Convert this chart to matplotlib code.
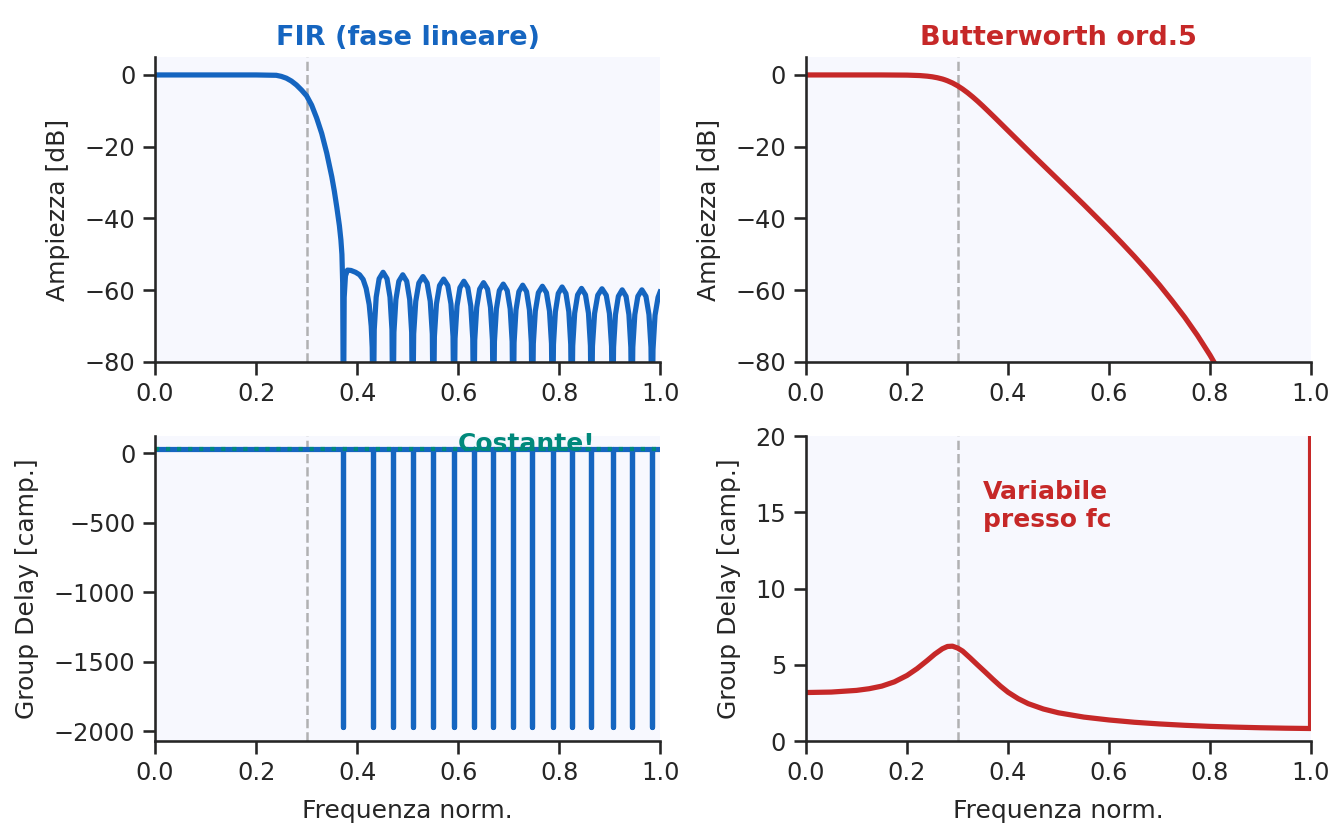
import numpy as np
import matplotlib.pyplot as plt

# colours
blue = '#1565c0'
red = '#c62828'
teal = '#00897b'
bg = '#f7f8fe'

fc = 0.3  # cutoff (normalized)

# FIR magnitude response [dB] (nulls go below -80 and get clipped)
fir_freq = [0.0, 0.1, 0.2, 0.24, 0.25, 0.26, 0.27, 0.28, 0.29, 0.30, 0.31, 0.32, 0.33,
            0.34, 0.35, 0.355, 0.36, 0.365, 0.368, 0.370, 0.3715, 0.373,
            0.3745, 0.377, 0.381, 0.388, 0.397, 0.405, 0.412, 0.418, 0.424, 0.428, 0.430, 0.432,
            0.4340, 0.4379, 0.4437, 0.4515, 0.4593, 0.4652, 0.4691, 0.471,
            0.4730, 0.4769, 0.4827, 0.4905, 0.4983, 0.5042, 0.5081, 0.510,
            0.5121, 0.5162, 0.5223, 0.5305, 0.5387, 0.5449, 0.5490, 0.551,
            0.5531, 0.5572, 0.5633, 0.5715, 0.5797, 0.5859, 0.5900, 0.592,
            0.5940, 0.5979, 0.6037, 0.6115, 0.6193, 0.6252, 0.6291, 0.631,
            0.6330, 0.6369, 0.6427, 0.6505, 0.6583, 0.6642, 0.6681, 0.670,
            0.6720, 0.6759, 0.6817, 0.6895, 0.6973, 0.7032, 0.7071, 0.709,
            0.7109, 0.7147, 0.7204, 0.7280, 0.7356, 0.7413, 0.7451, 0.747,
            0.7490, 0.7530, 0.7590, 0.7670, 0.7750, 0.7810, 0.7850, 0.787,
            0.7889, 0.7927, 0.7984, 0.8060, 0.8136, 0.8193, 0.8231, 0.825,
            0.8270, 0.8309, 0.8367, 0.8445, 0.8523, 0.8582, 0.8621, 0.864,
            0.8661, 0.8703, 0.8766, 0.8850, 0.8934, 0.8997, 0.9039, 0.906,
            0.9079, 0.9117, 0.9174, 0.9250, 0.9326, 0.9383, 0.9421, 0.944,
            0.9460, 0.9500, 0.9560, 0.9640, 0.9720, 0.9780, 0.9820, 0.984,
            0.986, 0.990, 0.996, 1.0]
fir_mag_db = [0.0, 0.0, 0.0, -0.1, -0.4, -0.9, -1.7, -2.8, -4.2, -5.8, -8.4, -12.0, -16.3,
              -21.8, -28.4, -32.4, -37.0, -42.0, -46.0, -50.0, -58.0, -100,
              -62.0, -56.0, -54.4, -54.5, -55.0, -55.7, -57.0, -59.5, -64.0, -70.0, -76.0, -100,
              -71.0, -61.9, -56.8, -55.0, -56.8, -61.9, -71.0, -100,
              -71.7, -62.6, -57.5, -55.7, -57.5, -62.6, -71.7, -100,
              -72.2, -63.1, -58.0, -56.2, -58.0, -63.1, -72.2, -100,
              -72.9, -63.8, -58.7, -56.9, -58.7, -63.8, -72.9, -100,
              -73.5, -64.4, -59.3, -57.5, -59.3, -64.4, -73.5, -100,
              -73.9, -64.8, -59.7, -57.9, -59.7, -64.8, -73.9, -100,
              -74.3, -65.2, -60.1, -58.3, -60.1, -65.2, -74.3, -100,
              -74.6, -65.5, -60.4, -58.6, -60.4, -65.5, -74.6, -100,
              -74.9, -65.8, -60.7, -58.9, -60.7, -65.8, -74.9, -100,
              -75.1, -66.0, -60.9, -59.1, -60.9, -66.0, -75.1, -100,
              -75.5, -66.4, -61.3, -59.5, -61.3, -66.4, -75.5, -100,
              -75.6, -66.5, -61.4, -59.6, -61.4, -66.5, -75.6, -100,
              -75.9, -66.8, -61.7, -59.9, -61.7, -66.8, -75.9, -100,
              -75.9, -66.8, -61.7, -59.9, -61.7, -66.8, -75.9, -100,
              -76.5, -67.0, -62.0, -60.5]

# FIR group delay: constant, with spikes at the stopband zeros
fir_gd_const = 30
fir_null_freq = [0.373, 0.432, 0.471, 0.510, 0.551, 0.592, 0.631, 0.670, 0.709, 0.747,
                 0.787, 0.825, 0.864, 0.906, 0.944, 0.984]
fir_spike_gd = -1970

# Butterworth ord.5
bw_freq = [0.0, 0.1, 0.15, 0.2, 0.225, 0.24, 0.25, 0.26, 0.27, 0.275, 0.28, 0.29, 0.3,
           0.31, 0.32, 0.33, 0.34, 0.35, 0.36, 0.375, 0.4, 0.425, 0.45, 0.475, 0.5, 0.525,
           0.55, 0.575, 0.6, 0.625, 0.65, 0.675, 0.7, 0.725, 0.75, 0.775, 0.8, 0.825]
bw_mag_db = [0.0, 0.0, -0.002, -0.048, -0.17, -0.34, -0.52, -0.78, -1.13, -1.36, -1.62,
             -2.24, -3.01, -3.93, -4.97, -6.12, -7.35, -8.65, -10.0, -12.05, -15.53, -19.0,
             -22.46, -25.88, -29.29, -32.70, -36.13, -39.64, -43.16, -46.80, -50.55, -54.46,
             -58.56, -62.96, -67.56, -72.59, -78.11, -84.25]

bw_gd_freq = [0.0, 0.05, 0.1, 0.125, 0.15, 0.175, 0.2, 0.22, 0.24, 0.255, 0.27, 0.28, 0.29,
              0.3, 0.31, 0.325, 0.34, 0.355, 0.37, 0.385, 0.4, 0.42, 0.44, 0.47, 0.5, 0.55,
              0.6, 0.65, 0.7, 0.75, 0.8, 0.85, 0.9, 0.95, 0.999, 1.0]
bw_gd = [3.18, 3.21, 3.32, 3.43, 3.6, 3.88, 4.3, 4.75, 5.28, 5.7, 6.05, 6.2, 6.22,
         6.1, 5.9, 5.45, 4.98, 4.52, 4.05, 3.6, 3.2, 2.78, 2.45, 2.1, 1.85, 1.57,
         1.38, 1.23, 1.12, 1.03, 0.96, 0.91, 0.87, 0.84, 0.82, 500]

plt.rcParams.update({
    'font.family': 'DejaVu Sans',
    'axes.edgecolor': '#262626',
    'axes.linewidth': 1.25,
    'xtick.major.width': 1.25,
    'ytick.major.width': 1.25,
    'xtick.major.size': 6,
    'ytick.major.size': 6,
    'xtick.color': '#262626',
    'ytick.color': '#262626',
    'xtick.labelsize': 11.5,
    'ytick.labelsize': 11.5,
    'axes.labelsize': 12,
    'axes.labelpad': 7,
    'axes.labelcolor': '#262626',
})

fig, axes = plt.subplots(2, 2, figsize=(1331 / 150, 825 / 150), dpi=150)
fig.subplots_adjust(left=0.1165, right=0.985, bottom=0.1018, top=0.9309,
                    wspace=0.289, hspace=0.243)

for ax in axes.flat:
    ax.set_facecolor(bg)
    ax.spines['top'].set_visible(False)
    ax.spines['right'].set_visible(False)
    ax.set_xlim(0, 1)
    ax.axvline(fc, color='#999999', ls='--', lw=1.2, alpha=0.75, zorder=1)

# top left: FIR magnitude
ax = axes[0, 0]
ax.plot(fir_freq, fir_mag_db, color=blue, lw=2.5, solid_joinstyle='round')
ax.set_ylim(-80, 5)
ax.set_ylabel('Ampiezza [dB]')
ax.set_title('FIR (fase lineare)', color=blue, fontsize=13, fontweight='bold')

# top right: Butterworth magnitude
ax = axes[0, 1]
ax.plot(bw_freq, bw_mag_db, color=red, lw=2.5)
ax.set_ylim(-80, 5)
ax.set_ylabel('Ampiezza [dB]')
ax.set_title('Butterworth ord.5', color=red, fontsize=13, fontweight='bold')

# bottom left: FIR group delay
gd_x = [0.0]
gd_y = [fir_gd_const]
for f0 in fir_null_freq:
    gd_x += [f0, f0, f0]
    gd_y += [fir_gd_const, fir_spike_gd, fir_gd_const]
gd_x.append(1.0)
gd_y.append(fir_gd_const)

ax = axes[1, 0]
ax.plot(gd_x, gd_y, color=blue, lw=2.5, solid_capstyle='round', solid_joinstyle='round')
ax.axhline(fir_gd_const, color=teal, ls=':', lw=2)
ax.text(0.6, 20, 'Costante!', color=teal, fontsize=12, fontweight='bold', va='baseline')
ax.set_ylim(-2070, 125)
ax.set_ylabel('Group Delay [camp.]')
ax.set_xlabel('Frequenza norm.')

# bottom right: Butterworth group delay
ax = axes[1, 1]
ax.plot(bw_gd_freq, bw_gd, color=red, lw=2.5)
ax.text(0.35, 15.4, 'Variabile\npresso fc', color=red, fontsize=12, fontweight='bold',
        va='center')
ax.set_ylim(0, 20)
ax.set_ylabel('Group Delay [camp.]')
ax.set_xlabel('Frequenza norm.')

plt.savefig('out.png', dpi=150)
